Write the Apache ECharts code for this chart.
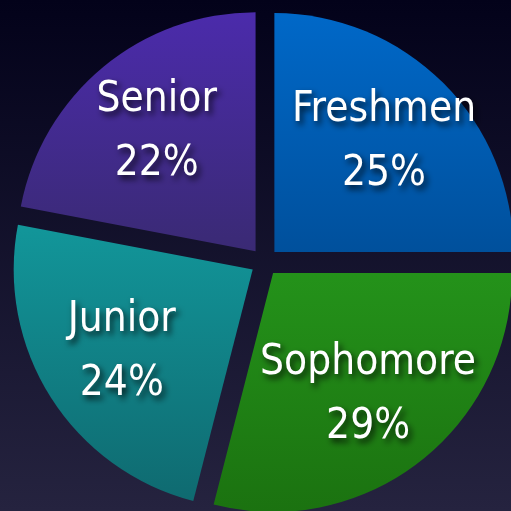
<!DOCTYPE html>
<html>
<head>
<meta charset="utf-8">
<title>Class breakdown</title>
<script src="https://cdn.jsdelivr.net/npm/echarts@6/dist/echarts.min.js"></script>
<style>
  html, body { margin: 0; padding: 0; background: #0a0920; }
  #chart { width: 511px; height: 511px; }
</style>
</head>
<body>
<div id="chart"></div>
<script>
// data
var classes = ['Freshmen', 'Sophomore', 'Junior', 'Senior'];
var shares = [25, 29, 24, 22];
var topColors = ['#0068c8', '#24921a', '#12969a', '#4b2bab'];
var bottomColors = ['#00509c', '#1b7210', '#0f6a70', '#3a2a74'];

function grad(i) {
  return new echarts.graphic.LinearGradient(0, 0, 0, 1, [
    { offset: 0, color: topColors[i] },
    { offset: 1, color: bottomColors[i] }
  ]);
}

var chart = echarts.init(document.getElementById('chart'));

var sliceData = classes.map(function (name, i) {
  return { name: name, value: shares[i], selected: true, itemStyle: { color: grad(i) } };
});
// same slices, invisible, only to place the labels further out
var labelData = classes.map(function (name, i) {
  return { name: name, value: shares[i], selected: true };
});

chart.setOption({
  animation: false,
  backgroundColor: new echarts.graphic.LinearGradient(0, 0, 0, 1, [
    { offset: 0, color: '#03021a' },
    { offset: 1, color: '#25233f' }
  ]),
  series: [
    {
      type: 'pie',
      center: [264.5, 262],
      radius: [0, 239],
      startAngle: 90,
      clockwise: true,
      selectedMode: 'multiple',
      selectedOffset: 14,
      avoidLabelOverlap: false,
      label: { show: false },
      labelLine: { show: false },
      emphasis: { disabled: true },
      itemStyle: { borderWidth: 0 },
      data: sliceData
    },
    {
      type: 'pie',
      silent: true,
      center: [264.5, 262],
      radius: [0, 304],
      startAngle: 90,
      clockwise: true,
      selectedMode: 'multiple',
      selectedOffset: 14,
      avoidLabelOverlap: false,
      itemStyle: { color: 'rgba(0,0,0,0)' },
      emphasis: { disabled: true },
      labelLine: { show: false },
      label: {
        show: true,
        position: 'inside',
        formatter: '{b}\n{c}%',
        color: '#ffffff',
        fontFamily: '"DejaVu Sans Condensed", sans-serif',
        fontSize: 42,
        lineHeight: 64,
        textShadowColor: 'rgba(0,0,0,0.8)',
        textShadowBlur: 6,
        textShadowOffsetX: 3,
        textShadowOffsetY: 4
      },
      data: labelData
    }
  ]
});
</script>
</body>
</html>
